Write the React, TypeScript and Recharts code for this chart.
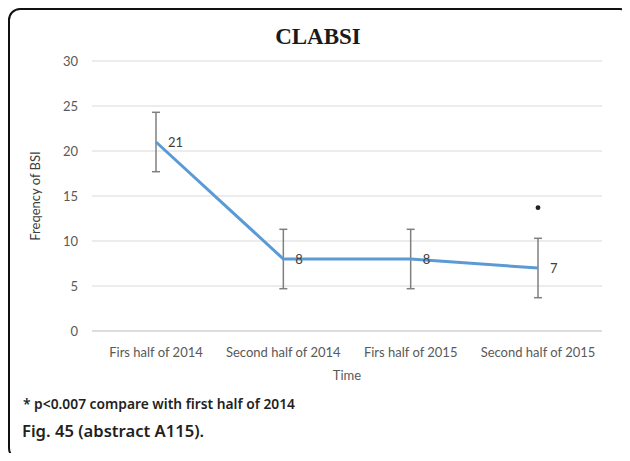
import {
  ComposedChart,
  Line,
  XAxis,
  YAxis,
  CartesianGrid,
  ErrorBar,
  LabelList,
} from 'recharts'

const periods = ['Firs half of 2014', 'Second half of 2014', 'Firs half of 2015', 'Second half of 2015']
const bsiFrequency = [21, 8, 8, 7]
const errorRange = [3.3, 3.3, 3.3, 3.3]
// asterisk marker above the last error bar
const significance = [null, null, null, 13.7]
const yTicks = [0, 5, 10, 15, 20, 25, 30]

const data = periods.map((period, i) => ({
  period,
  value: bsiFrequency[i],
  err: errorRange[i],
  sig: significance[i],
}))

const tickFont = { fontSize: 13, fill: '#595959', fontFamily: 'Lato, sans-serif' }

function SigDot(props: any) {
  const { cx, cy, value, index } = props
  if (value == null || cx == null || cy == null) return <g key={index} />
  return <circle key={index} cx={cx} cy={cy} r={2.4} fill="#222" />
}

export default function App() {
  return (
    <div
      style={{
        position: 'relative',
        width: 630,
        height: 461,
        margin: -8,
        overflow: 'hidden',
        background: '#fff',
      }}
    >
      <div
        style={{
          position: 'absolute',
          left: 8,
          top: 8,
          width: 624,
          height: 452,
          border: '2px solid #111',
          borderRadius: 12,
          boxSizing: 'border-box',
        }}
      />
      <div
        style={{
          position: 'absolute',
          left: 0,
          width: 636,
          top: 24,
          textAlign: 'center',
          fontFamily: '"Liberation Serif", "Times New Roman", serif',
          fontWeight: 700,
          fontSize: 23,
          color: '#1a1a1a',
        }}
      >
        CLABSI
      </div>
      <div style={{ position: 'absolute', left: 0, top: 0 }}>
        <ComposedChart
          width={630}
          height={461}
          data={data}
          margin={{ top: 61, right: 28, left: 0, bottom: 100 }}
        >
          <CartesianGrid vertical={false} stroke="#d9d9d9" strokeWidth={1.2} />
          <XAxis
            dataKey="period"
            tick={tickFont}
            tickLine={false}
            axisLine={{ stroke: '#d9d9d9', strokeWidth: 1.5 }}
            tickMargin={11}
            height={30}
            interval={0}
            padding={{ left: 64, right: 64 }}
            label={{
              value: 'Time',
              position: 'bottom',
              offset: 10,
              style: { fontSize: 13, fill: '#595959', fontFamily: 'Lato, sans-serif' },
            }}
          />
          <YAxis
            domain={[0, 30]}
            ticks={yTicks}
            tick={tickFont}
            tickLine={false}
            axisLine={false}
            width={92}
            tickMargin={8}
            label={{
              value: 'Freqency of BSI',
              angle: -90,
              position: 'insideLeft',
              offset: 35,
              style: { textAnchor: 'middle', fontSize: 13, fill: '#404040', fontFamily: 'Lato, sans-serif' },
            }}
          />
          <Line
            type="linear"
            dataKey="value"
            stroke="#5b9bd5"
            strokeWidth={3}
            dot={false}
            isAnimationActive={false}
          >
            <ErrorBar dataKey="err" direction="y" width={4} stroke="#7f7f7f" strokeWidth={1.5} />
            <LabelList
              dataKey="value"
              position="right"
              offset={12}
              style={{ fontSize: 13, fill: '#404040', fontFamily: 'Lato, sans-serif' }}
            />
          </Line>
          <Line
            dataKey="sig"
            stroke="none"
            dot={SigDot}
            activeDot={false}
            isAnimationActive={false}
          />
        </ComposedChart>
      </div>
      <div
        style={{
          position: 'absolute',
          left: 23,
          top: 394,
          fontFamily: '"Noto Sans", sans-serif',
          fontWeight: 600,
          fontSize: 13.8,
          color: '#231f20',
        }}
      >
        * p&lt;0.007 compare with first half of 2014
      </div>
      <div
        style={{
          position: 'absolute',
          left: 22,
          top: 419,
          fontFamily: '"Noto Sans", sans-serif',
          fontWeight: 600,
          fontSize: 16.6,
          color: '#231f20',
        }}
      >
        Fig. 45 (abstract A115).
      </div>
    </div>
  )
}
